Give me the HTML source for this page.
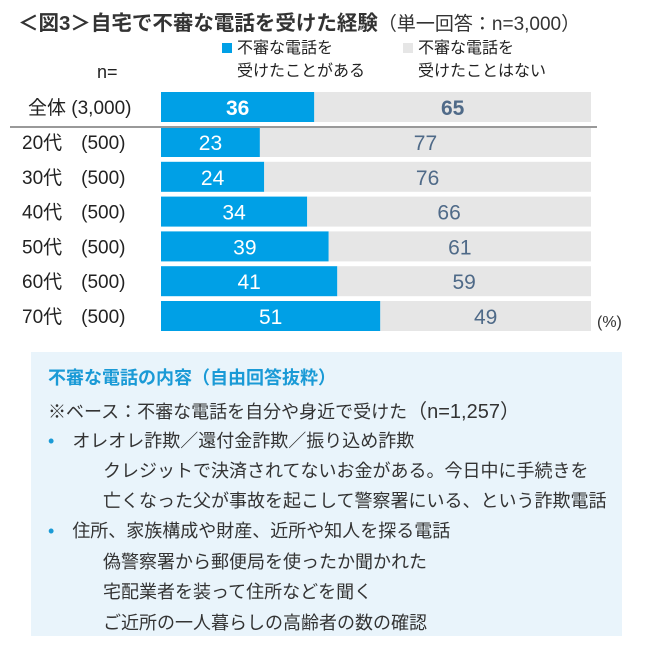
<!DOCTYPE html>
<html><head><meta charset="utf-8"><style>
body{margin:0;width:650px;height:646px;background:#fff;position:relative;overflow:hidden;font-family:"Liberation Sans","Noto Sans CJK JP",sans-serif;color:#222}
.a{position:absolute;white-space:nowrap}
</style></head><body>
<div class="a" style="left:18px;top:6px;font-size:20.5px;font-weight:bold;color:#333">＜図3＞自宅で不審な電話を受けた経験<span style="font-weight:normal;font-size:19px">（単一回答：n=3,000）</span></div>
<div class="a" style="left:222px;top:37px;font-size:16px;line-height:23px"><span style="display:inline-block;width:10px;height:10px;background:#00a0e6;margin-right:5px"></span>不審な電話を<br><span style="padding-left:15px">受けたことがある</span></div>
<div class="a" style="left:403px;top:37px;font-size:16px;line-height:23px"><span style="display:inline-block;width:10px;height:10px;background:#e6e6e6;margin-right:5px"></span>不審な電話を<br><span style="padding-left:15px">受けたことはない</span></div>
<div class="a" style="left:97px;top:62px;font-size:18px">n=</div>
<svg id="chart" class="a" style="left:0;top:0" width="650" height="340"></svg>
<div class="a" style="left:597px;top:314px;font-size:16px;color:#333">(%)</div>
<div class="a" style="left:31px;top:352px;width:591px;height:284px;background:#e9f4fb"></div>
<div class="a" style="left:48px;top:364px;font-size:18px;font-weight:bold;color:#1a9ad6">不審な電話の内容（自由回答抜粋）</div>
<div class="a" style="left:48px;top:395px;font-size:18px;color:#333">※ベース：不審な電話を自分や身近で受けた<span style="font-size:20px">（n=1,257）</span></div>
<div class="a" style="left:48px;top:427px;font-size:18px;color:#333"><span style="color:#1a9ad6">•</span><span style="margin-left:18px">オレオレ詐欺／還付金詐欺／振り込め詐欺</span></div>
<div class="a" style="left:103px;top:457px;font-size:18px;color:#333">クレジットで決済されてないお金がある。今日中に手続きを</div>
<div class="a" style="left:103px;top:487px;font-size:18px;color:#333">亡くなった父が事故を起こして警察署にいる、という詐欺電話</div>
<div class="a" style="left:48px;top:517px;font-size:18px;color:#333"><span style="color:#1a9ad6">•</span><span style="margin-left:18px">住所、家族構成や財産、近所や知人を探る電話</span></div>
<div class="a" style="left:103px;top:548px;font-size:18px;color:#333">偽警察署から郵便局を使ったか聞かれた</div>
<div class="a" style="left:103px;top:578px;font-size:18px;color:#333">宅配業者を装って住所などを聞く</div>
<div class="a" style="left:103px;top:609px;font-size:18px;color:#333">ご近所の一人暮らしの高齢者の数の確認</div>
<script>
const categories=["全体","20代","30代","40代","50代","60代","70代"];
const nLabels=["(3,000)","(500)","(500)","(500)","(500)","(500)","(500)"];
const yesValues=[36,23,24,34,39,41,51];
const noValues=[65,77,76,66,61,59,49];
const svg=document.getElementById('chart');
const NS='http://www.w3.org/2000/svg';
const x0=161,W=430;
function yC(i){return i===0?107:142+(i-1)*34.8;}
function xs(v,t){return v/t*W;}
function mk(tag,at){const e=document.createElementNS(NS,tag);for(const k in at)e.setAttribute(k,at[k]);svg.appendChild(e);return e;}
categories.forEach((c,i)=>{
  const t=yesValues[i]+noValues[i],y=yC(i)-15;
  const wy=xs(yesValues[i],t),wn=xs(noValues[i],t);
  const b1=mk('rect',{x:x0,y:y,width:wy,height:30,fill:'#00a0e6'});
  
  
  const b2=mk('rect',{x:x0+wy,y:y,width:wn,height:30,fill:'#e6e6e6'});
  
  
  const fw=i===0?'bold':'normal';
  const t1=mk('text',{x:x0+wy/2,y:yC(i)+8,'text-anchor':'middle','font-size':21,'font-weight':fw,fill:'#fff'});
  t1.textContent=yesValues[i];
  
  
  const t2=mk('text',{x:x0+wy+wn/2,y:yC(i)+8,'text-anchor':'middle','font-size':21,'font-weight':fw,fill:'#4f6a88'});
  t2.textContent=noValues[i];
  
  
  const lb=mk('text',{x:i===0?28:22,y:yC(i)+7,'font-size':19,fill:'#222'});
  lb.textContent=i===0?c+' '+nLabels[i]:c+'　'+nLabels[i];
  
  
});
const ln=mk('line',{x1:10,x2:597,y1:127,y2:127,stroke:'#999','stroke-width':2});


</script>
</body></html>
